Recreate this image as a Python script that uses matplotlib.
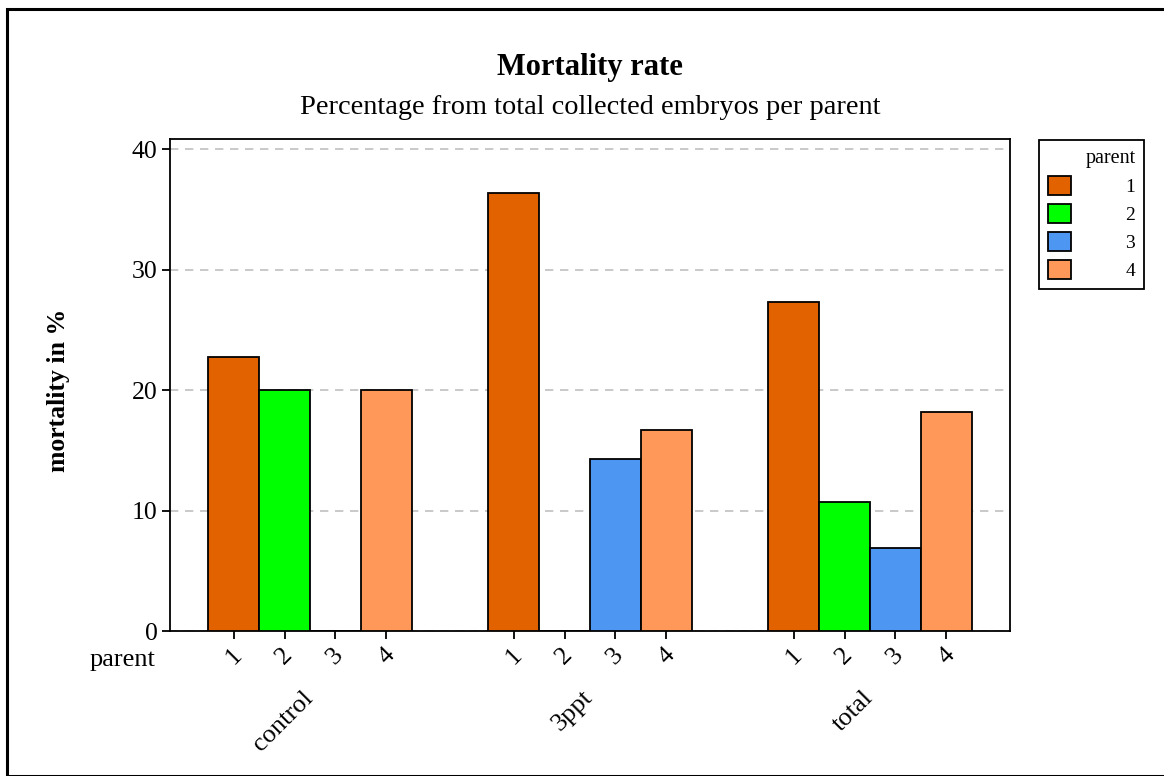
import matplotlib
matplotlib.use("Agg")
import matplotlib.pyplot as plt
from matplotlib.patches import Rectangle, Patch
import numpy as np

groups = ["control", "3ppt", "total"]
parents = ["1", "2", "3", "4"]
mortality = {
    "1": [22.73, 36.36, 27.27],
    "2": [20.0, 0.0, 10.71],
    "3": [0.0, 14.29, 6.90],
    "4": [20.0, 16.67, 18.18],
}
colors = ["#E26200", "#00FF00", "#4D96F2", "#FF9859"]

plt.rcParams['font.family'] = ['Liberation Serif', 'DejaVu Serif']

fig = plt.figure(figsize=(11.64, 7.76), dpi=100)
W, H = 1164, 776
ax = fig.add_axes([170 / W, 1 - 631 / H, (1010 - 170) / W, (631 - 139) / H])

gstep = 5.5
for i, p in enumerate(parents):
    xs = [g * gstep + i for g in range(len(groups))]
    ax.bar(xs, mortality[p], width=1.0, color=colors[i], edgecolor="black",
           linewidth=1.3, zorder=3)

ax.set_xlim(-1.25, (len(groups) - 1) * gstep + 3 + 1.25)
ax.set_ylim(0, 40.83)
ax.set_yticks([0, 10, 20, 30, 40])
ax.tick_params(axis='y', labelsize=18.5, length=6, width=1.3, pad=3)
ax.yaxis.grid(True, linestyle=(0, (5, 4)), color="#C0C0C0", linewidth=1.2, zorder=0)

xt = [g * gstep + i for g in range(len(groups)) for i in range(len(parents))]
xl = [p for g in groups for p in parents]
ax.set_xticks(xt)
ax.set_xticklabels(xl, rotation=45, fontsize=18.5)
ax.tick_params(axis='x', length=6, width=1.3, pad=3)
for lab in ax.get_xticklabels():
    lab.set_ha('center')
for s in ax.spines.values():
    s.set_linewidth(1.3)

for g, name in enumerate(groups):
    cx = g * gstep + 1.5
    ax.annotate(name, xy=(cx, 0), xycoords='data', xytext=(-6, -40),
                textcoords='offset points', rotation=45, ha='right', va='top',
                fontsize=19, rotation_mode='anchor')

fig.text(155 / W, 1 - 660 / H, "parent", ha='right', va='center', fontsize=19)

fig.text(59 / W, 1 - 390 / H, "mortality in %", rotation=90, ha='center',
         va='center', fontsize=18.5, fontweight='bold')

fig.text(590 / W, 1 - 67 / H, "Mortality rate", ha='center', va='center',
         fontsize=22, fontweight='bold')
fig.text(590 / W, 1 - 108 / H, "Percentage from total collected embryos per parent",
         ha='center', va='center', fontsize=20.4)

handles = [Patch(facecolor=c, edgecolor='black', linewidth=1.3) for c in colors]
leg = fig.legend(handles, parents, title="parent", loc='upper left',
                 bbox_to_anchor=(1039 / W, 1 - 140 / H), borderaxespad=0,
                 fontsize=14, title_fontsize=14.5, frameon=True, fancybox=False,
                 edgecolor='black', framealpha=1.0, handlelength=1.2,
                 handleheight=1.15, borderpad=0.45, labelspacing=0.4,
                 handletextpad=2.8, alignment='right')
leg.get_frame().set_linewidth(1.3)
for t in leg.get_texts():
    t.set_ha('right')

fig.patches.append(Rectangle((7 / W, 0), 1.2, 1 - 9 / H, transform=fig.transFigure,
                             fill=False, edgecolor='black', linewidth=2.2))

fig.savefig("out.png", dpi=100)
